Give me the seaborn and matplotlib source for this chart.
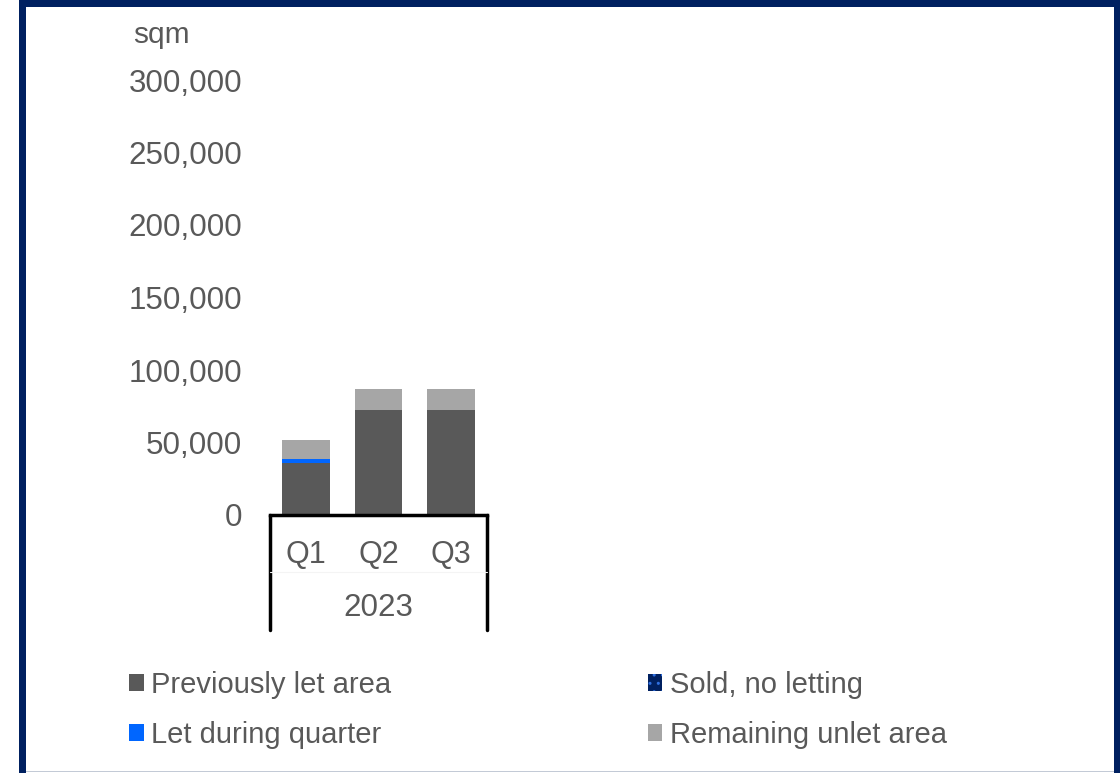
import numpy as np
import pandas as pd
import matplotlib
matplotlib.use("Agg")
import matplotlib.pyplot as plt
import seaborn as sns
from matplotlib.patches import Patch, Rectangle
from matplotlib.lines import Line2D
from matplotlib.transforms import blended_transform_factory

# Area by quarter (sqm)
quarters = ["Q1", "Q2", "Q3"]
year_label = "2023"
previously_let = [35900, 72400, 72400]
let_during_quarter = [2800, 0, 0]
sold_no_letting = [0, 0, 0]
remaining_unlet = [13300, 14300, 14300]

series_names = ["Previously let area", "Let during quarter",
                "Sold, no letting", "Remaining unlet area"]
series_colors = ["#595959", "#0066FF", "#002060", "#A6A6A6"]
y_ticks = [0, 50000, 100000, 150000, 200000, 250000, 300000]

TEXT = "#595959"
NAVY = "#002060"

sns.set_theme(style="white")
plt.rcParams["font.family"] = ["Liberation Sans", "DejaVu Sans"]

W, H = 1120, 773
fig = plt.figure(figsize=(W / 100, H / 100), dpi=100)
fig.patch.set_facecolor("white")

ax = fig.add_axes([270 / W, 258 / H, 217 / W, 435 / H])
ax.set_facecolor("none")

df = pd.DataFrame({
    "quarter": quarters,
    series_names[0]: previously_let,
    series_names[1]: let_during_quarter,
    series_names[2]: sold_no_letting,
    series_names[3]: remaining_unlet,
})

# Stacked bars: draw cumulative totals from the top layer down
cum = df[series_names].cumsum(axis=1)
for name, color in reversed(list(zip(series_names, series_colors))):
    sns.barplot(x=df["quarter"], y=cum[name], color=color, saturation=1,
                width=0.66, linewidth=0, ax=ax)

ax.set_xlim(-0.5, len(quarters) - 0.5)
ax.set_ylim(y_ticks[0], y_ticks[-1])
ax.set_xlabel("")
ax.set_ylabel("")
for s in ax.spines.values():
    s.set_visible(False)

ax.set_yticks(y_ticks, [f"{v:,}" for v in y_ticks])
ax.tick_params(axis="y", length=0, pad=20, labelsize=22.6, labelcolor=TEXT)
ax.set_xticks(range(len(quarters)), quarters)
ax.tick_params(axis="x", length=0, pad=18, labelsize=22, labelcolor=TEXT)

# Category box: axis line plus group dividers
box_bottom = -115 / 435
ax.add_line(Line2D([0, 1], [0, 0], transform=ax.transAxes, color="black",
                   lw=2.5, clip_on=False, solid_capstyle="projecting"))
for xx in (0, 1):
    ax.add_line(Line2D([xx, xx], [0, box_bottom], transform=ax.transAxes,
                       color="black", lw=2.5, clip_on=False))
ax.add_line(Line2D([0, 1], [-57 / 435, -57 / 435], transform=ax.transAxes,
                   color="#F4F4F4", lw=0.8, clip_on=False))
trans = blended_transform_factory(ax.transData, ax.transAxes)
ax.text((len(quarters) - 1) / 2, -93 / 435, year_label, transform=trans,
        ha="center", va="center", fontsize=22.6, color=TEXT)

# Unit label
fig.text(133 / W, 1 - 35 / H, "sqm", ha="left", va="center",
         fontsize=21.5, color=TEXT)

# Legend
handles = [
    Patch(facecolor=series_colors[0], linewidth=0),
    Patch(facecolor=series_colors[1], linewidth=0),
    Patch(facecolor=series_colors[2], edgecolor="#2F6FE0", hatch="..", linewidth=0),
    Patch(facecolor=series_colors[3], linewidth=0),
]
fig.legend(handles, series_names, ncol=2, loc="upper left",
           bbox_to_anchor=(129 / W, 1 - 671 / H), frameon=False,
           fontsize=21, labelcolor=TEXT, handlelength=0.5, handleheight=0.5,
           handletextpad=0.25, columnspacing=8.8, labelspacing=0.75,
           borderpad=0, borderaxespad=0)

# Navy frame
fig.patches.append(Rectangle((19 / W, 0), 7 / W, 1, transform=fig.transFigure,
                             facecolor=NAVY, edgecolor="none", zorder=10))
fig.patches.append(Rectangle((19 / W, 1 - 7 / H), 1 - 19 / W, 7 / H,
                             transform=fig.transFigure, facecolor=NAVY,
                             edgecolor="none", zorder=10))
fig.patches.append(Rectangle((1 - 6 / W, 0), 6 / W, 1, transform=fig.transFigure,
                             facecolor=NAVY, edgecolor="none", zorder=10))
fig.patches.append(Rectangle((19 / W, 1 / H), 1 - 19 / W, 1 / H,
                             transform=fig.transFigure, facecolor="#C3CAD6",
                             edgecolor="none", zorder=9))

fig.savefig("out.png", dpi=100)
